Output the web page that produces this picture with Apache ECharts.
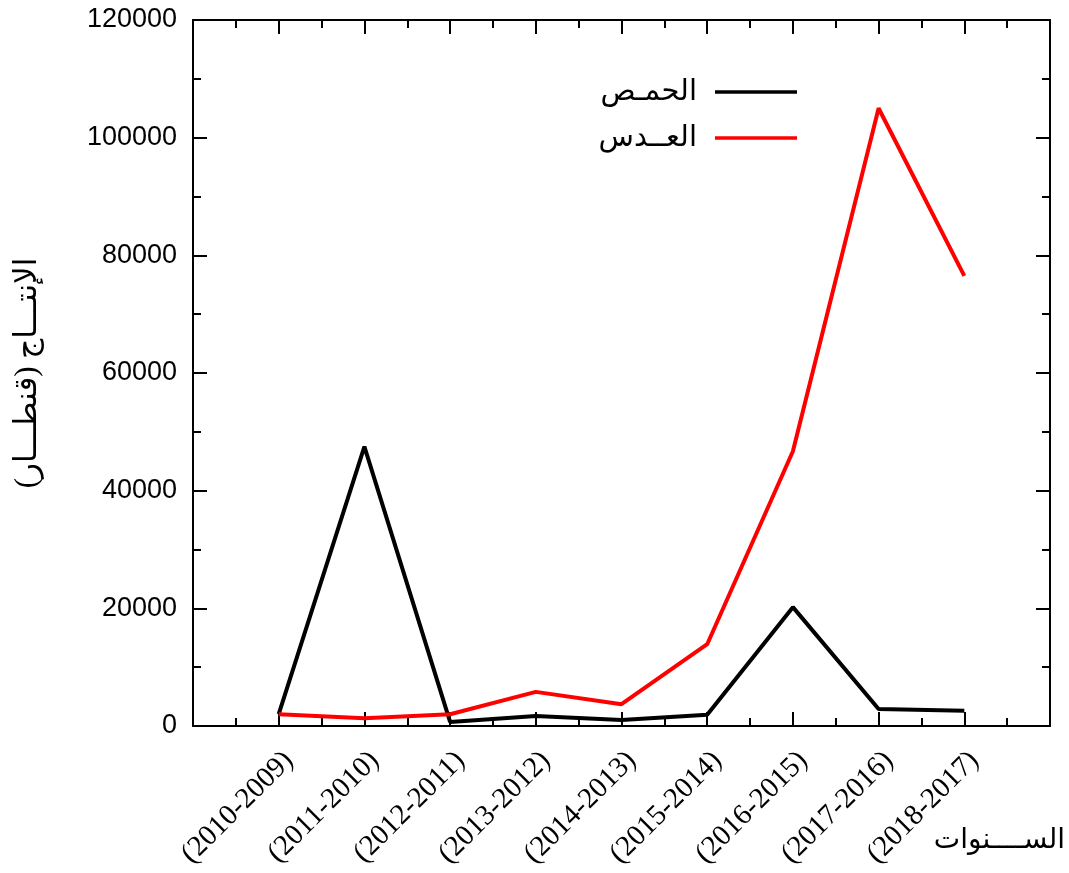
<!DOCTYPE html>
<html>
<head>
<meta charset="utf-8">
<script src="https://cdn.jsdelivr.net/npm/echarts@6/dist/echarts.min.js"></script>
<style>html,body{margin:0;padding:0;background:#fff;}#c{width:1069px;height:873px;}</style>
</head>
<body>
<div id="c"></div>
<script>
const categories = ['(2010-2009)','(2011-2010)','(2012-2011)','(2013-2012)','(2014-2013)','(2015-2014)','(2016-2015)','(2017-2016)','(2018-2017)'];
const chickpea = [2000, 47500, 700, 1700, 1000, 1900, 20200, 2900, 2600];
const lentil = [2000, 1300, 2000, 5800, 3700, 13900, 46700, 105000, 76500];
const yTicks = [0, 20000, 40000, 60000, 80000, 100000, 120000];
const seriesNames = ['الحمـص', 'العــدس'];
const yName = 'الإنتـــاج (قنطـــار)';
const xName = 'الســــنوات';

const toPts = arr => arr.map((v, i) => [i + 1, v]);
const axisLine = {show: true, onZero: false, lineStyle: {color: '#000', width: 2}};
const tickCommon = {show: true, inside: true, length: 14, lineStyle: {color: '#000', width: 2}};
const minorCommon = {show: true, splitNumber: 2, length: 8, lineStyle: {color: '#000', width: 2}};

const chart = echarts.init(document.getElementById('c'));
chart.setOption({
  animation: false,
  backgroundColor: '#fff',
  grid: {left: 193, right: 19, top: 20, bottom: 147, containLabel: false, outerBoundsMode: 'none'},
  legend: {
    orient: 'vertical', align: 'right', right: 267, top: 72,
    icon: 'rect', itemWidth: 82, itemHeight: 3.5, itemGap: 16,
    textStyle: {fontSize: 29, fontFamily: 'Liberation Serif, DejaVu Sans', color: '#000', lineHeight: 30, padding: [0, 13, 0, 0]},
    data: seriesNames
  },
  xAxis: [{
    type: 'value', min: 0, max: 10, interval: 1, position: 'bottom',
    axisLine: axisLine, axisTick: tickCommon, minorTick: minorCommon, splitLine: {show: false},
    axisLabel: {
      rotate: 45, margin: 20, fontSize: 29, fontFamily: 'Liberation Serif', color: '#000',
      verticalAlign: 'top',
      formatter: v => (v >= 1 && v <= categories.length) ? categories[v - 1] : '',
      showMinLabel: false, showMaxLabel: false
    }
  }, {
    type: 'value', min: 0, max: 10, interval: 1, position: 'top',
    axisLine: axisLine, axisTick: tickCommon, minorTick: minorCommon, splitLine: {show: false},
    axisLabel: {show: false}
  }],
  yAxis: [{
    type: 'value', min: 0, max: 120000, interval: 20000, position: 'left',
    axisLine: axisLine, axisTick: tickCommon, minorTick: minorCommon, splitLine: {show: false},
    axisLabel: {fontSize: 27, fontFamily: 'Liberation Sans', color: '#000', margin: 16,
      formatter: v => yTicks.includes(v) ? String(v) : ''},
    name: yName, nameLocation: 'middle', nameGap: 150, nameRotate: 90,
    nameTextStyle: {fontSize: 31, fontFamily: 'Liberation Serif, DejaVu Sans', color: '#000'}
  }, {
    type: 'value', min: 0, max: 120000, interval: 20000, position: 'right',
    axisLine: axisLine, axisTick: tickCommon, minorTick: minorCommon, splitLine: {show: false},
    axisLabel: {show: false}
  }],
  graphic: [{
    type: 'text', right: 4, top: 827,
    style: {text: xName, fontSize: 28, fontFamily: 'Liberation Serif, DejaVu Sans', fill: '#000'}
  }],
  series: [{
    name: seriesNames[0], type: 'line', data: toPts(chickpea), symbol: 'none',
    xAxisIndex: 0, yAxisIndex: 0,
    lineStyle: {color: '#000', width: 4}, itemStyle: {color: '#000'}
  }, {
    name: seriesNames[1], type: 'line', data: toPts(lentil), symbol: 'none',
    xAxisIndex: 0, yAxisIndex: 0,
    lineStyle: {color: '#ff0000', width: 4}, itemStyle: {color: '#ff0000'}
  }]
});
</script>
</body>
</html>
